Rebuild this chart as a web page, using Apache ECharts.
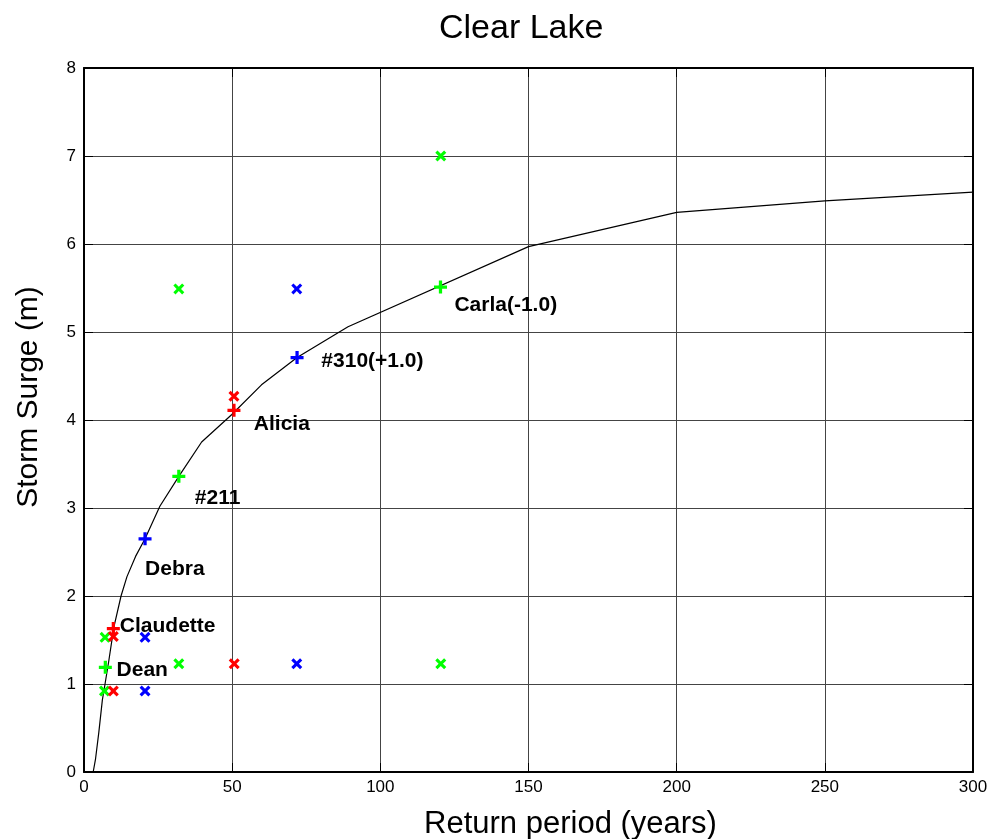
<!DOCTYPE html>
<html>
<head>
<meta charset="utf-8">
<script src="https://cdn.jsdelivr.net/npm/echarts@6/dist/echarts.min.js"></script>
<style>
html,body{margin:0;padding:0;background:#fff;}
#chart{width:990px;height:839px;}
</style>
</head>
<body>
<div id="chart"></div>
<script>
// ---- data ----
var xTicks = [0, 50, 100, 150, 200, 250, 300];
var yTicks = [0, 1, 2, 3, 4, 5, 6, 7, 8];
var curveX = [3.1, 3.9, 5.0, 6.2, 7.1, 8.4, 10.1, 12.5, 14.5, 17.4, 20.6, 25.6, 32, 39.7, 49.8, 59.9, 71.9, 89.1, 150, 200, 250, 300];
var curveY = [0, 0.15, 0.45, 0.82, 1.0, 1.27, 1.65, 2.0, 2.22, 2.45, 2.65, 3.02, 3.36, 3.75, 4.06, 4.40, 4.71, 5.06, 5.97, 6.36, 6.49, 6.59];
var plusGreen = [[7.2, 1.19], [32, 3.36], [120.3, 5.51]];
var plusRed = [[9.9, 1.63], [50.6, 4.11]];
var plusBlue = [[20.6, 2.65], [71.9, 4.71]];
var crossGreen = [[7.1, 1.53], [6.9, 0.92], [32, 5.49], [32, 1.23], [120.4, 1.23], [120.4, 7.0]];
var crossRed = [[9.9, 1.54], [9.9, 0.92], [50.7, 1.23], [50.6, 4.27]];
var crossBlue = [[20.6, 1.53], [20.6, 0.92], [71.8, 1.23], [71.8, 5.49]];
var labelNames = ['Claudette', 'Dean', 'Debra', '#211', 'Alicia', '#310(+1.0)', 'Carla(-1.0)'];
var labelX = [12.1, 11.0, 20.6, 37.4, 57.3, 80.1, 125];
var labelY = [1.66, 1.16, 2.31, 3.11, 3.95, 4.67, 5.31];

// ---- chart ----
var PLUS = 'path://M3.75,0h2.5v3.75h3.75v2.5h-3.75v3.75h-2.5v-3.75h-3.75v-2.5h3.75z';
var CROSS = 'path://M0,2L2,0L5,3L8,0L10,2L7,5L10,8L8,10L5,7L2,10L0,8L3,5z';
var FONT = '"Liberation Sans", Arial, Helvetica, sans-serif';

function pairs(xs, ys) { return xs.map(function (x, i) { return [x, ys[i]]; }); }
function markSeries(data, sym, color, size) {
  return {
    type: 'scatter', data: data, symbol: sym, symbolSize: size,
    itemStyle: { color: color, opacity: 1 }, z: 5, silent: true
  };
}

var chart = echarts.init(document.getElementById('chart'), null, { renderer: 'canvas' });
var labelData = labelNames.map(function (n, i) { return { value: [labelX[i], labelY[i]], name: n }; });

chart.setOption({
  animation: false,
  backgroundColor: '#ffffff',
  title: {
    text: 'Clear Lake', left: 434, top: 7,
    textStyle: { fontFamily: FONT, fontSize: 34, fontWeight: 'normal', color: '#000' }
  },
  grid: { left: 84, right: 17, top: 68, bottom: 67, containLabel: false, outerBoundsMode: 'none' },
  xAxis: [{
    type: 'value', min: 0, max: 300, interval: 50,
    name: 'Return period (years)', nameLocation: 'middle', nameGap: 37,
    nameTextStyle: { fontFamily: FONT, fontSize: 31, color: '#000', padding: [0, 0, 0, 84] },
    axisLine: { show: true, onZero: false, lineStyle: { color: '#000', width: 2 } },
    axisTick: { show: true, inside: true, length: 9, lineStyle: { color: '#000' } },
    axisLabel: { fontFamily: FONT, fontSize: 17, color: '#000', margin: 7 },
    splitLine: { show: true, lineStyle: { color: '#444', width: 1 } }
  }, {
    type: 'value', min: 0, max: 300, interval: 50, position: 'top',
    axisLine: { show: true, onZero: false, lineStyle: { color: '#000', width: 2 } },
    axisTick: { show: true, inside: true, length: 9, lineStyle: { color: '#000' } },
    axisLabel: { show: false }, splitLine: { show: false }
  }],
  yAxis: [{
    type: 'value', min: 0, max: 8, interval: 1,
    name: 'Storm Surge (m)', nameLocation: 'middle', nameGap: 40,
    nameTextStyle: { fontFamily: FONT, fontSize: 30, color: '#000', padding: [0, 0, 0, 46] },
    axisLine: { show: true, onZero: false, lineStyle: { color: '#000', width: 2 } },
    axisTick: { show: true, inside: true, length: 9, lineStyle: { color: '#000' } },
    axisLabel: { fontFamily: FONT, fontSize: 17, color: '#000', margin: 8 },
    splitLine: { show: true, lineStyle: { color: '#444', width: 1 } }
  }, {
    type: 'value', min: 0, max: 8, interval: 1, position: 'right',
    axisLine: { show: true, onZero: false, lineStyle: { color: '#000', width: 2 } },
    axisTick: { show: true, inside: true, length: 9, lineStyle: { color: '#000' } },
    axisLabel: { show: false }, splitLine: { show: false }
  }],
  series: [
    {
      type: 'line', data: pairs(curveX, curveY), showSymbol: false, symbol: 'none',
      lineStyle: { color: '#000', width: 1.2 }, z: 3, silent: true
    },
    markSeries(crossGreen, CROSS, '#00ff00', 11),
    markSeries(crossRed, CROSS, '#ff0000', 11),
    markSeries(crossBlue, CROSS, '#0000ff', 11),
    markSeries(plusGreen, PLUS, '#00ff00', 13),
    markSeries(plusRed, PLUS, '#ff0000', 13),
    markSeries(plusBlue, PLUS, '#0000ff', 13),
    {
      type: 'scatter', data: labelData, symbolSize: 1, itemStyle: { color: 'rgba(0,0,0,0)' }, z: 6, silent: true,
      label: {
        show: true, position: 'inside', formatter: '{b}',
        align: 'left', verticalAlign: 'middle', opacity: 1, textBorderWidth: 0,
        fontFamily: FONT, fontSize: 21, fontWeight: 'bold', color: '#000000'
      }
    }
  ]
});
</script>
</body>
</html>
